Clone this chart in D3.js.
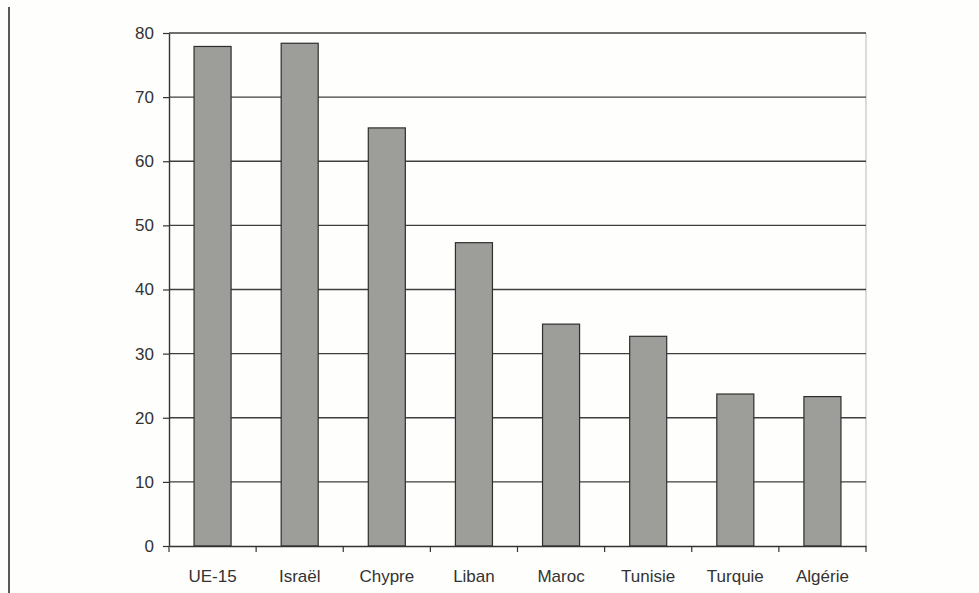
<!DOCTYPE html>
<html>
<head>
<meta charset="utf-8">
<script src="https://cdn.jsdelivr.net/npm/d3@7"></script>
<style>
  body { margin: 0; background: #fefefc; }
  svg { display: block; }
  text { font-family: "Liberation Sans", Arial, sans-serif; fill: #333; }
</style>
</head>
<body>
<script>
//countries and values
var countries = ["UE-15", "Israël", "Chypre", "Liban", "Maroc", "Tunisie", "Turquie", "Algérie"];
var values = [77.9, 78.4, 65.2, 47.3, 34.6, 32.7, 23.7, 23.3];
var yTicks = [0, 10, 20, 30, 40, 50, 60, 70, 80];

window.onload = drawChart();

function drawChart(){
    var width = 979,
        height = 593;

    //plot frame
    var left = 169, right = 866, top = 33, bottom = 546;

    var svg = d3.select("body")
        .append("svg")
        .attr("width", width)
        .attr("height", height);

    //page edge line on the left
    svg.append("line")
        .attr("x1", 9).attr("x2", 9)
        .attr("y1", 7).attr("y2", height)
        .attr("stroke", "#222")
        .attr("stroke-width", 1.5);

    var x = d3.scaleBand()
        .domain(countries)
        .range([left, right])
        .paddingInner(0.575)
        .paddingOuter(0.2875);

    var y = d3.scaleLinear()
        .domain([0, 80])
        .range([bottom, top]);

    //right border (light)
    svg.append("line")
        .attr("x1", right).attr("x2", right)
        .attr("y1", top).attr("y2", bottom)
        .attr("stroke", "#c4c4c4")
        .attr("stroke-width", 1.2);

    //gridlines
    svg.append("g")
        .selectAll("line")
        .data(yTicks.filter(function(d){ return d > 0; }))
        .enter()
        .append("line")
        .attr("x1", left).attr("x2", right)
        .attr("y1", function(d){ return y(d); })
        .attr("y2", function(d){ return y(d); })
        .attr("stroke", "#3f3f3f")
        .attr("stroke-width", 1.3);

    //bars
    svg.append("g")
        .selectAll("rect")
        .data(values)
        .enter()
        .append("rect")
        .attr("x", function(d, i){ return x(countries[i]); })
        .attr("y", function(d){ return y(d); })
        .attr("width", x.bandwidth())
        .attr("height", function(d){ return y(0) - y(d); })
        .attr("fill", "#9d9d99")
        .attr("stroke", "#2e2e2e")
        .attr("stroke-width", 1.2);

    //y axis
    var yAxis = svg.append("g")
        .attr("transform", "translate(" + left + ",0)")
        .call(d3.axisLeft(y).tickValues(yTicks).tickSize(6).tickPadding(9).tickSizeOuter(0));
    yAxis.select(".domain").attr("stroke", "#333").attr("stroke-width", 1.4);
    yAxis.selectAll(".tick line").attr("stroke", "#333").attr("stroke-width", 1.2);
    yAxis.selectAll("text").style("font-size", "17px").attr("fill", "#333");

    //x axis: labels centred under bars, ticks on category boundaries
    var xAxis = svg.append("g")
        .attr("transform", "translate(0," + bottom + ")")
        .call(d3.axisBottom(x).tickSize(0).tickPadding(24).tickSizeOuter(0));
    xAxis.select(".domain").attr("stroke", "#333").attr("stroke-width", 1.4);
    xAxis.selectAll("text").style("font-size", "17px").attr("fill", "#333");

    var edges = countries.map(function(d){ return x(d) - (x.step() - x.bandwidth()) / 2; });
    edges.push(right);
    xAxis.selectAll(".edge")
        .data(edges)
        .enter()
        .append("line")
        .attr("class", "edge")
        .attr("x1", function(d){ return d; })
        .attr("x2", function(d){ return d; })
        .attr("y1", 0).attr("y2", 6)
        .attr("stroke", "#333")
        .attr("stroke-width", 1.2);
};
</script>
</body>
</html>
